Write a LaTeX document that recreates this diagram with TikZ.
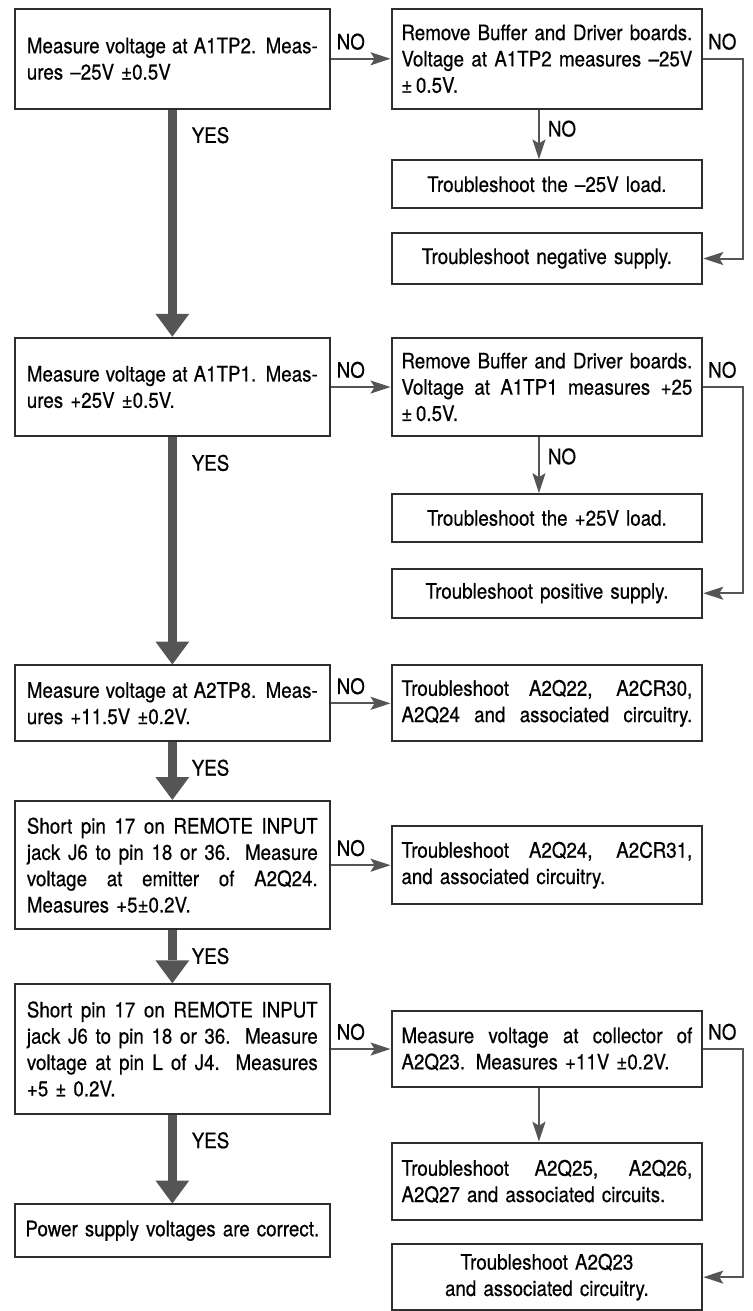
\documentclass[tikz,border=0pt]{standalone}
\usepackage{fontspec}
\setmainfont{TeX Gyre Heros}[FakeStretch=0.88,FakeBold=0.5]
\usepackage{xcolor}
\usepackage{tikz}
\usetikzlibrary{arrows.meta,positioning}
\definecolor{boxline}{HTML}{2E2E2E}
\definecolor{arrowgray}{HTML}{555555}
\newcommand{\figfont}{\fontsize{10.7}{13.2}\selectfont}
\newlength{\boxtw}
\setlength{\boxtw}{146pt}
\newcommand{\jl}[1]{\makebox[\boxtw][s]{\spaceskip=0pt\xspaceskip=0pt #1}}

\begin{document}
\begin{tikzpicture}[x=0.5pt,y=-0.5pt,
    box/.style={draw=boxline,line width=1pt,text width=\boxtw,align=left,
                font=\figfont,inner xsep=0pt,inner ysep=2pt},
    mbox/.style={box,minimum width=158pt},
    rbox/.style={box,minimum width=156pt},
    flow/.style={draw=arrowgray,line width=1pt,
                 -{Stealth[length=10pt,width=6.5pt,inset=2pt]}},
    yesflow/.style={draw=arrowgray,line width=4.5pt,
                 -{Triangle[length=11.5pt,width=17pt,line width=0pt]}},
    lbl/.style={font=\figfont,inner sep=1pt}]
  \fill[white] (0,0) rectangle (755,1311);

  % left column
  \node[mbox,minimum height=50pt,anchor=north west] (m1) at (14,8)
    {\jl{Measure voltage at A1TP2. Meas-}\\ures --25V ±0.5V};
  \node[mbox,minimum height=49.5pt,below=114pt of m1] (m2)
    {\jl{Measure voltage at A1TP1. Meas-}\\ures +25V ±0.5V.};
  \node[mbox,minimum height=38pt,below=114pt of m2] (m3)
    {\jl{Measure voltage at A2TP8. Meas-}\\ures +11.5V ±0.2V.};
  \node[mbox,minimum height=64.5pt,below=29pt of m3] (m4)
    {\jl{Short pin 17 on REMOTE INPUT}\\\jl{jack J6 to pin 18 or 36. Measure}\\
     \jl{voltage at emitter of A2Q24.}\\Measures +5±0.2V.};
  \node[mbox,minimum height=65pt,below=26.5pt of m4] (m5)
    {\jl{Short pin 17 on REMOTE INPUT}\\\jl{jack J6 to pin 18 or 36. Measure}\\
     \jl{voltage at pin L of J4. Measures}\\+5 ± 0.2V.};
  \node[mbox,minimum height=26.5pt,align=center,below=44.5pt of m5] (m6)
    {\makebox[\boxtw]{Power supply voltages are correct.}};

  % right column
  \node[rbox,minimum height=50pt,right=30pt of m1] (r1)
    {\jl{Remove Buffer and Driver boards.}\\\jl{Voltage at A1TP2 measures --25V}\\±\,0.5V.};
  \node[rbox,minimum height=24pt,align=center,below=25pt of r1] (r2)
    {Troubleshoot the --25V load.};
  \node[rbox,minimum height=25.5pt,align=center,below=11.5pt of r2] (r3)
    {Troubleshoot negative supply.};
  \node[rbox,minimum height=49.5pt,right=30pt of m2] (r4)
    {\jl{Remove Buffer and Driver boards.}\\\jl{Voltage at A1TP1 measures +25}\\±\,0.5V.};
  \node[rbox,minimum height=24pt,align=center,below=28pt of r4] (r5)
    {Troubleshoot the +25V load.};
  \node[rbox,minimum height=24.5pt,align=center,below=12.5pt of r5] (r6)
    {Troubleshoot positive supply.};
  \node[rbox,minimum height=38pt,right=30pt of m3] (r7)
    {\jl{Troubleshoot A2Q22, A2CR30,}\\\jl{A2Q24 and associated circuitry.}};
  \node[rbox,minimum height=39pt,right=30pt of m4] (r8)
    {\jl{Troubleshoot A2Q24, A2CR31,}\\and associated circuitry.};
  \node[rbox,minimum height=38pt,right=30pt of m5] (r9)
    {\jl{Measure voltage at collector of}\\A2Q23. Measures +11V ±0.2V.};
  \node[rbox,minimum height=39pt,below=27pt of r9] (r10)
    {\jl{Troubleshoot A2Q25, A2Q26,}\\A2Q27 and associated circuits.};
  \node[rbox,minimum height=33pt,align=center,below=11pt of r10] (r11)
    {Troubleshoot A2Q23\\and associated circuitry.};

  % yes path
  \foreach \a/\b in {m1/m2,m2/m3,m3/m4,m4/m5,m5/m6}
    \draw[yesflow] (\a) -- (\b)
      node[lbl,pos=0,anchor=north west,xshift=6.5pt,yshift=-5.5pt] {YES};

  % no branches
  \foreach \a/\b in {m1/r1,m2/r4,m3/r7,m4/r8,m5/r9}
    \draw[flow] (\a.east) -- (\b.west)
      node[lbl,pos=0,anchor=south west,xshift=1.5pt,yshift=3pt] {NO};
  \draw[flow] ([xshift=-4pt]r1.south) -- ([xshift=-4pt]r2.north)
    node[lbl,pos=0,anchor=north west,xshift=3pt,yshift=-4pt] {NO};
  \draw[flow] ([xshift=-4pt]r4.south) -- ([xshift=-4pt]r5.north)
    node[lbl,pos=0,anchor=north west,xshift=3pt,yshift=-4pt] {NO};
  \draw[flow] ([xshift=-4pt]r9.south) -- ([xshift=-4pt]r10.north);
  \foreach \a/\b in {r1/r3,r4/r6,r9/r11}
    \draw[flow] (\a.east) -- ++(20pt,0)
      node[lbl,pos=0,anchor=south west,xshift=1pt,yshift=3pt] {NO}
      |- (\b.east);
\end{tikzpicture}
\end{document}
